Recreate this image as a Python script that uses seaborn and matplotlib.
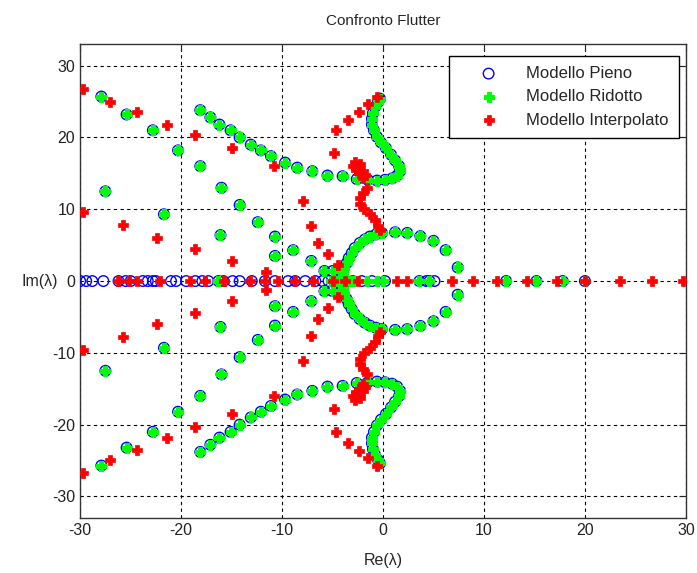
import matplotlib
matplotlib.use('Agg')
import matplotlib.pyplot as plt
import seaborn as sns
import numpy as np
import pandas as pd

# eigenvalues, upper half plane (conjugates added below)
full_re = [-27.9, -25.4, -22.8, -20.3, -18.1, -16.0, -14.2, -12.4, -10.7, -8.9, -7.1, -5.8,
           -27.5, -21.7, -16.1, -10.7, -5.0,
           -18.1, -17.1, -16.2, -15.1, -14.2, -13.1, -12.1, -11.1, -9.7, -8.5, -7.0, -5.5, -4.0,
           -2.6, -1.5, -0.6, 0.2, 0.9, 1.4, 1.7, 1.6, 1.2, 0.8, 0.3, -0.2, -0.6, -0.9, -1.1,
           -1.1, -1.0, -0.8, -0.5, -0.3,
           -4.3, -4.0, -3.9, -3.6, -3.4, -3.1, -2.8, -2.3, -1.8, -1.3, -0.7, -0.1, 1.2, 2.4,
           3.7, 5.0, 6.2, 7.4]
full_im = [25.7, 23.2, 21.0, 18.2, 16.0, 13.0, 10.6, 8.2, 6.2, 4.3, 2.8, 1.4,
           12.5, 9.3, 6.4, 3.5, 1.4,
           23.8, 22.8, 21.8, 21.0, 20.0, 19.0, 18.2, 17.4, 16.5, 15.8, 15.3, 14.7, 14.6,
           14.2, 14.1, 14.0, 14.1, 14.3, 14.7, 15.3, 16.0, 16.8, 17.6, 18.5, 19.3, 20.1, 21.0, 21.8,
           22.6, 23.4, 24.2, 24.9, 25.4,
           0.4, 1.1, 1.8, 2.5, 3.2, 3.9, 4.6, 5.3, 5.8, 6.2, 6.5, 6.7, 6.8, 6.7,
           6.25, 5.6, 4.3, 1.9]
full_axis = [-30.0, -29.4, -28.8, -27.7, -26.2, -25.5, -25.0, -23.8, -23.3, -22.8, -22.5,
             -21.0, -20.5, -19.5, -18.6, -17.9, -17.3, -16.3, -15.8, -14.9, -14.2, -13.0,
             -11.7, -10.7, -9.4, -8.7, -7.7, -6.7, -6.0, -5.4, -4.7, -4.0, -3.0, -2.1, -1.1,
             0.2, 3.6, 4.3, 4.6, 5.1, 12.2, 15.2, 17.8, 20.0]

red_re = [-29.7, -27.0, -24.4, -21.4, -18.6, -15.0, -10.8,
          -4.9, -4.7, -3.5, -2.4, -1.5, -0.6,
          -3.0, -2.7, -2.4, -2.0, -2.3, -1.8, -2.8, -2.0,
          -1.6, -2.0, -2.3, -2.3, -1.9, -1.3, -0.8, -0.5, -0.3,
          -29.7, -25.8, -22.4, -18.6, -15.0, -11.6,
          -7.9, -7.1, -6.4, -5.4, -4.5]
red_im = [26.7, 24.9, 23.5, 21.8, 20.3, 18.5, 16.0,
          17.8, 21.0, 22.5, 23.6, 24.6, 25.7,
          16.0, 15.5, 15.0, 15.3, 16.3, 14.8, 16.6, 14.3,
          12.9, 12.2, 11.5, 10.8, 10.0, 9.3, 8.5, 7.7, 7.1,
          9.6, 7.8, 6.0, 4.4, 2.8, 1.25,
          11.1, 7.6, 5.3, 3.8, 2.2]
red_axis = [-26.3, -25.2, -24.4, -22.1, -19.1, -17.6, -15.8, -13.2, -11.7, -10.4, -8.7,
            -6.9, -5.0, -3.8, -2.5, 1.4, 2.4, 6.8, 8.9, 11.3, 14.3, 17.2, 20.0, 23.5,
            26.6, 29.7]

green_axis = [-16.3, -5.2, -3.5, -3.0, -1.6, -0.6, 0.0, 3.6, 4.6, 12.2, 15.2, 17.8, 20.0]


def roots(re, im, axis):
    re = np.array(re)
    im = np.array(im)
    x = np.concatenate([re, re, axis])
    y = np.concatenate([im, -im, np.zeros(len(axis))])
    return pd.DataFrame({'re': x, 'im': y})


pieno = roots(full_re, full_im, full_axis)
ridotto = roots(full_re, full_im, green_axis)
interp = roots(red_re, red_im, red_axis)

sns.set_style('white')
plt.rcParams['font.family'] = ['Liberation Sans', 'DejaVu Sans']
plt.rcParams['axes.unicode_minus'] = False

fig = plt.figure(figsize=(6.97, 5.73), dpi=100)
ax = fig.add_axes([0.115, 0.096, 0.869, 0.827])

sns.scatterplot(data=pieno, x='re', y='im', marker='o', s=58, facecolor='none',
                edgecolor='blue', linewidth=1.0, ax=ax, label='Modello Pieno', zorder=3)
sns.scatterplot(data=ridotto, x='re', y='im', marker='P', s=55, color='#00ff00',
                edgecolor='#00ff00', linewidth=0.8, ax=ax, label='Modello Ridotto', zorder=4)
sns.scatterplot(data=interp, x='re', y='im', marker='P', s=60, color='red',
                edgecolor='red', linewidth=0.5, ax=ax, label='Modello Interpolato', zorder=5)

ax.set_xlim(-30, 30)
ax.set_ylim(-33, 33)
ax.set_xticks(np.arange(-30, 31, 10))
ax.set_yticks(np.arange(-30, 31, 10))
ax.grid(True, color='black', linestyle=(0, (3, 3)), linewidth=0.8)
ax.tick_params(direction='in', length=5, top=True, right=True, labelsize=11.5, colors='#222222')
for sp in ax.spines.values():
    sp.set_color('#333333')
    sp.set_linewidth(1.0)

ax.set_title('Confronto Flutter', fontsize=11, pad=14)
ax.set_xlabel('Re(λ)', fontsize=11.5, va='center')
ax.set_ylabel('Im(λ)', fontsize=11.5, rotation=0, ha='center', va='center')
ax.yaxis.set_label_coords(-0.066, 0.5)
ax.xaxis.set_label_coords(0.5, -0.089)

leg = ax.legend(loc='upper right', bbox_to_anchor=(0.988, 0.975), fontsize=12, frameon=True,
                fancybox=False, edgecolor='black', framealpha=1, borderpad=0.6,
                handletextpad=0.5, labelspacing=0.5, handlelength=3.5, borderaxespad=0)
leg.get_frame().set_linewidth(1.0)

fig.savefig('out.png', dpi=100)
